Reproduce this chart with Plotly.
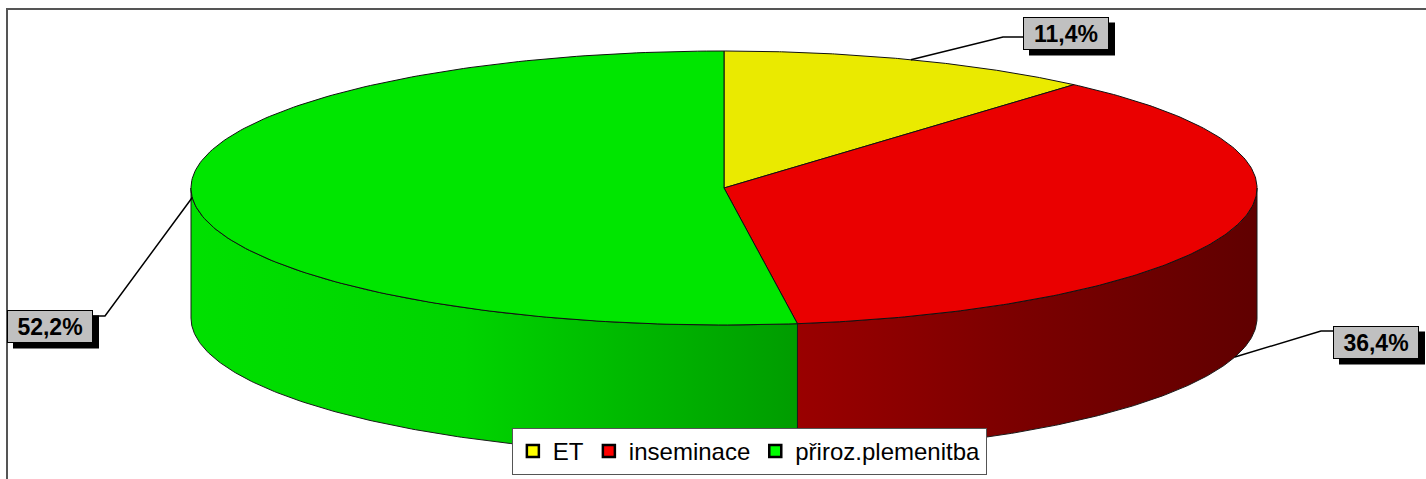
import numpy as np
import plotly.graph_objects as go

categories = ["ET", "inseminace", "přiroz.plemenitba"]
values = [11.4, 36.4, 52.2]
top_colors = ["#EAEA00", "#EA0000", "#00E600"]
side_scales = [
    [[0, "#C8C800"], [1, "#888800"]],
    [[0, "#9A0000"], [0.5, "#7A0000"], [1, "#600000"]],
    [[0, "#00E000"], [0.45, "#00D400"], [1, "#009C00"]],
]
legend_colors = ["#FFFF00", "#FF0000", "#00FF00"]

# geometry (pixels)
W, H = 1426, 479
cx, cy, rx, ry, depth = 724, 188, 533, 137, 130
label_centers = [(1066, 33), (1376, 342), (50, 326)]
label_elbows = [(1003, 37), (1321, 331), (105, 316)]
label_w, label_h = 86, 33
shadow_off = 6


def arc(a, b, dy=0, n=200):
    t = np.radians(np.linspace(a, b, n))
    return cx + rx * np.sin(t), cy - ry * np.cos(t) + dy


total = sum(values)
angles = np.concatenate([[0], np.cumsum(values) / total * 360])

fig = go.Figure()

# side walls (visible front half 90..270 deg)
for i in range(len(values)):
    a, b = angles[i], angles[i + 1]
    lo, hi = max(a, 90), min(b, 270)
    if hi <= lo:
        continue
    xt, yt = arc(lo, hi)
    xb, yb = arc(hi, lo, depth)
    xs = np.concatenate([xt, xb, [xt[0]]])
    ys = np.concatenate([yt, yb, [yt[0]]])
    fig.add_trace(go.Scatter(
        x=xs, y=ys, mode="lines", fill="toself",
        fillgradient=dict(type="horizontal", colorscale=side_scales[i]),
        line=dict(color="#1a1a1a", width=1), showlegend=False, hoverinfo="skip"))

# top faces
for i in range(len(values)):
    a, b = angles[i], angles[i + 1]
    xa, ya = arc(a, b)
    xs = np.concatenate([[cx], xa, [cx]])
    ys = np.concatenate([[cy], ya, [cy]])
    fig.add_trace(go.Scatter(
        x=xs, y=ys, mode="lines", fill="toself", fillcolor=top_colors[i],
        line=dict(color="#111111", width=1), showlegend=False, hoverinfo="skip"))

# leader lines and labels
shapes = [dict(type="rect", xref="x", yref="y", x0=7, y0=9, x1=W + 20, y1=H + 20,
               line=dict(color="#555555", width=2), layer="below")]
annotations = []
for i in range(len(values)):
    mid = (angles[i] + angles[i + 1]) / 2
    dy = depth if 90 < mid < 270 and abs(np.cos(np.radians(mid))) > 0.2 else 0
    sx, sy = arc(mid, mid, dy, n=1)
    lx, ly = label_centers[i]
    ex, ey = label_elbows[i]
    edge_x = lx - label_w / 2 if ex < lx else lx + label_w / 2
    fig.add_trace(go.Scatter(
        x=[sx[0], ex, edge_x], y=[sy[0], ey, ey], mode="lines",
        line=dict(color="black", width=1.5), showlegend=False, hoverinfo="skip"))
    shapes.append(dict(type="rect", xref="x", yref="y",
                       x0=lx - label_w / 2 + shadow_off, x1=lx + label_w / 2 + shadow_off,
                       y0=ly - label_h / 2 + shadow_off, y1=ly + label_h / 2 + shadow_off,
                       fillcolor="black", line=dict(width=0), layer="above"))
    annotations.append(dict(
        x=lx, y=ly, xref="x", yref="y", showarrow=False,
        text=f"<b>{values[i]:.1f}%</b>".replace(".", ","),
        font=dict(family="Liberation Sans, Arial", size=23, color="black"),
        bgcolor="#C0C0C0", bordercolor="black", borderwidth=1, borderpad=0,
        width=label_w - 2, height=label_h - 2, align="center", valign="middle"))

# legend entries
for cat, col in zip(categories, legend_colors):
    fig.add_trace(go.Scatter(
        x=[None], y=[None], mode="markers", name=cat,
        marker=dict(symbol="square", size=12, color=col, line=dict(color="black", width=2.5))))

fig.update_layout(
    width=W, height=H, margin=dict(l=0, r=0, t=0, b=0),
    paper_bgcolor="white", plot_bgcolor="white",
    xaxis=dict(range=[0, W], visible=False, fixedrange=True),
    yaxis=dict(range=[H, 0], visible=False, fixedrange=True),
    shapes=shapes, annotations=annotations,
    legend=dict(orientation="h", x=0.5255, xanchor="center", y=(H - 475) / H, yanchor="bottom",
                bgcolor="white", bordercolor="#555555", borderwidth=1,
                font=dict(family="Liberation Sans, Arial", size=24, color="black"),
                itemwidth=30, traceorder="normal"),
)

fig.write_html("out.html", config={"displayModeBar": False},
               post_script="document.body.style.margin='0';")
